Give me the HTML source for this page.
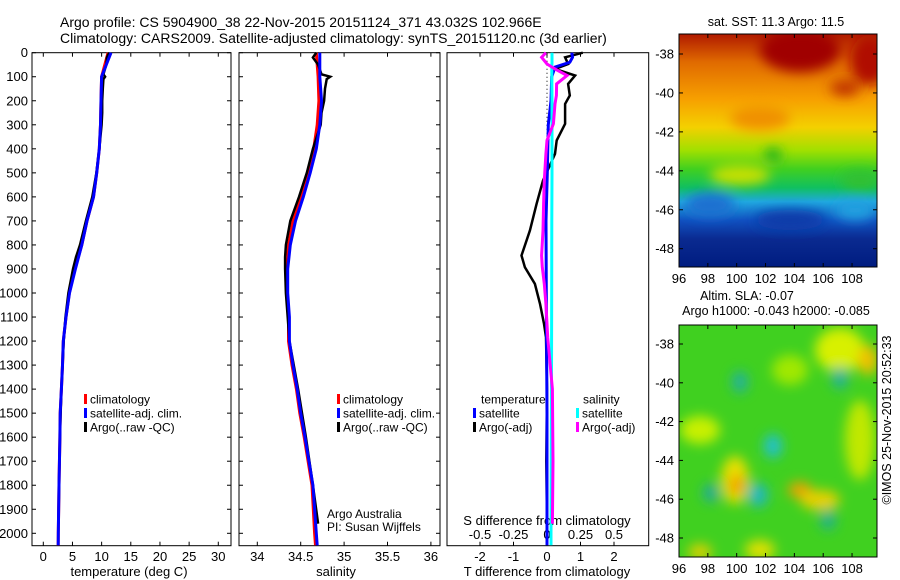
<!DOCTYPE html>
<html><head><meta charset="utf-8">
<style>
html,body{margin:0;padding:0;background:#fff;}
svg{display:block;font-family:"Liberation Sans",sans-serif;}
text{fill:#000;}
</style></head>
<body>
<svg id="chart" width="900" height="580" viewBox="0 0 900 580" xmlns="http://www.w3.org/2000/svg">
<defs>
  <linearGradient id="sstGrad" x1="0" y1="0" x2="0" y2="1">
    <stop offset="0" stop-color="#b01a00"/>
    <stop offset="0.12" stop-color="#e06a00"/>
    <stop offset="0.28" stop-color="#f7a000"/>
    <stop offset="0.40" stop-color="#f4d000"/>
    <stop offset="0.50" stop-color="#a0e000"/>
    <stop offset="0.58" stop-color="#40d020"/>
    <stop offset="0.66" stop-color="#10c060"/>
    <stop offset="0.72" stop-color="#20a8e0"/>
    <stop offset="0.80" stop-color="#1050c0"/>
    <stop offset="0.88" stop-color="#0a2a90"/>
    <stop offset="1" stop-color="#001c80"/>
  </linearGradient>
  <filter id="blur6"><feGaussianBlur stdDeviation="6"/></filter>
  <clipPath id="clipMap1"><rect x="679" y="34" width="198" height="233"/></clipPath>
  <clipPath id="clipMap2"><rect x="679" y="325" width="198" height="232"/></clipPath>
</defs>

<text x="60" y="27" font-size="14">Argo profile: CS 5904900_38 22-Nov-2015 20151124_371 43.032S 102.966E</text>
<text x="60" y="43" font-size="14">Climatology: CARS2009. Satellite-adjusted climatology: synTS_20151120.nc (3d earlier)</text>

<g id="p1"></g>
<g id="p2"></g>
<g id="p3"></g>

<g>
  <text x="776" y="26" font-size="12.5" text-anchor="middle">sat. SST: 11.3 Argo: 11.5</text>
  <g clip-path="url(#clipMap1)">
    <rect x="679" y="34" width="198" height="233" fill="url(#sstGrad)"/>
    <g filter="url(#blur6)">
      <ellipse cx="800" cy="50" rx="40" ry="22" fill="#a00000"/>
      <ellipse cx="870" cy="60" rx="20" ry="25" fill="#b01000"/>
      <ellipse cx="845" cy="88" rx="15" ry="8" fill="#c03000"/>
      <ellipse cx="760" cy="118" rx="30" ry="12" fill="#f09000"/>
      <ellipse cx="773" cy="155" rx="9" ry="7" fill="#20b020"/>
      <ellipse cx="740" cy="175" rx="30" ry="10" fill="#c8e000"/>
      <ellipse cx="710" cy="205" rx="25" ry="12" fill="#1a70d0"/>
      <ellipse cx="790" cy="220" rx="35" ry="10" fill="#0c3aa8"/>
      <ellipse cx="855" cy="210" rx="20" ry="10" fill="#20a0e0"/>
      <ellipse cx="860" cy="180" rx="20" ry="10" fill="#30c030"/>
    </g>
  </g>
  <rect x="679" y="34" width="198" height="233" fill="none" stroke="#000"/>
  <g id="map1axes"></g>
</g>

<g>
  <text x="747" y="300" font-size="12.5" text-anchor="middle">Altim. SLA: -0.07</text>
  <text x="776" y="315" font-size="12.5" text-anchor="middle">Argo h1000: -0.043 h2000: -0.085</text>
  <g clip-path="url(#clipMap2)">
    <rect x="679" y="325" width="198" height="232" fill="#40d020"/>
    <g filter="url(#blur6)">
      <ellipse cx="840" cy="350" rx="25" ry="22" fill="#d8f000"/>
      <ellipse cx="868" cy="360" rx="10" ry="15" fill="#f0c000"/>
      <ellipse cx="790" cy="370" rx="18" ry="15" fill="#a0e800"/>
      <ellipse cx="700" cy="430" rx="20" ry="14" fill="#c8f000"/>
      <ellipse cx="735" cy="480" rx="14" ry="24" fill="#e8e000"/>
      <ellipse cx="737" cy="485" rx="8" ry="10" fill="#f0a000"/>
      <ellipse cx="800" cy="490" rx="12" ry="8" fill="#f0a000"/>
      <ellipse cx="820" cy="500" rx="20" ry="10" fill="#e8d000"/>
      <ellipse cx="860" cy="440" rx="15" ry="40" fill="#c0e800"/>
      <ellipse cx="760" cy="550" rx="15" ry="10" fill="#e0e000"/>
      <ellipse cx="700" cy="552" rx="12" ry="8" fill="#e0d000"/>
      <ellipse cx="740" cy="382" rx="8" ry="11" fill="#20b0a0"/>
      <ellipse cx="840" cy="378" rx="8" ry="11" fill="#20b0a0"/>
      <ellipse cx="773" cy="446" rx="9" ry="12" fill="#20c0d0"/>
      <ellipse cx="758" cy="495" rx="10" ry="12" fill="#20b8c0"/>
      <ellipse cx="711" cy="493" rx="8" ry="9" fill="#20a8a0"/>
      <ellipse cx="828" cy="520" rx="8" ry="10" fill="#20b090"/>
    </g>
  </g>
  <rect x="679" y="325" width="198" height="232" fill="none" stroke="#000"/>
  <g id="map2axes"></g>
  <text transform="translate(891,420) rotate(-90)" font-size="12.5" text-anchor="middle">©IMOS 25-Nov-2015 20:52:33</text>
</g>
</svg>

<script>
var climDepth = [0,100,200,300,400,500,600,700,800,900,1000,1100,1200,1300,1400,1500,1600,1800,2000,2050];
var climTemp  = [11.1,10.0,9.9,9.8,9.6,9.15,8.6,7.5,6.6,5.4,4.45,3.9,3.43,3.3,3.1,2.9,2.85,2.7,2.57,2.55];
var satTemp   = [11.6,10.0,9.9,9.8,9.6,9.15,8.6,7.5,6.6,5.5,4.5,3.9,3.43,3.3,3.1,2.9,2.85,2.7,2.57,2.55];
var climSal   = [34.68,34.70,34.71,34.69,34.65,34.59,34.51,34.41,34.36,34.34,34.34,34.36,34.36,34.40,34.45,34.49,34.54,34.63,34.66,34.67];
var satSal    = [34.72,34.72,34.74,34.72,34.68,34.61,34.53,34.44,34.38,34.35,34.35,34.37,34.37,34.41,34.46,34.50,34.55,34.64,34.68,34.69];

var argoDepth = [0,20,50,90,100,110,150,200,250,300,400,500,600,700,800,850,900,1000,1100,1200,1400,1600,1800,1960];
var argoTemp  = [11.3,10.9,10.8,10.3,10.6,10.3,10.2,10.1,10.1,10.0,9.6,9.1,8.4,7.3,6.3,5.6,5.1,4.3,3.8,3.5,3.1,2.85,2.7,2.6];
var argoSal   = [34.68,34.64,34.70,34.74,34.84,34.80,34.78,34.77,34.74,34.73,34.64,34.57,34.48,34.38,34.33,34.32,34.32,34.33,34.35,34.37,34.47,34.56,34.64,34.70];

var diffDepth  = [0,19,47,68,95,130,178,213,296,365,421,532,629,740,844,893,962,1045,1128,1184,1400,1700,1960];
var argoTdiff  = [1.07,0.54,0.63,0.24,0.84,0.63,0.68,0.54,0.54,0.29,0.24,-0.12,-0.31,-0.51,-0.76,-0.66,-0.36,-0.21,-0.09,-0.03,0.0,-0.02,0.0];
var argoSdiff  = [-0.008,-0.04,0.0,0.06,0.15,0.072,0.07,0.06,0.048,0.0,-0.008,-0.02,-0.025,-0.03,-0.04,-0.035,-0.02,-0.008,0.0,0.005,0.04,0.045,0.04];
var satDiffDepth = [0,19,40,60,100,200,300,500,700,1000,1500,2000,2050];
var satTdiff   = [0.74,0.76,0.68,0.24,0.14,0.12,0.04,0.01,-0.03,-0.02,0.0,0.0,0.0];
var satSdiff   = [0.037,0.037,0.037,0.036,0.036,0.037,0.037,0.037,0.036,0.035,0.033,0.03,0.03];

var depthTicks = [0,100,200,300,400,500,600,700,800,900,1000,1100,1200,1300,1400,1500,1600,1700,1800,1900,2000];
var tempTicks = [0,5,10,15,20,25,30];
var salTicks = [34,34.5,35,35.5,36];
var salTickLabels = ["34","34.5","35","35.5","36"];
var tdTicks = [-2,-1,0,1,2];
var sdTicks = [-0.5,-0.25,0,0.25,0.5];
var sdTickLabels = ["-0.5","-0.25","0","0.25","0.5"];
var lonTicks = [96,98,100,102,104,106,108];
var latTicks = [-38,-40,-42,-44,-46,-48];

var TOP = 52.7, BOT = 545.7, FS = 13, LFS = 12;
function yD(d){ return TOP + d*0.2403; }
function xT(t){ return 43.3 + t*5.833; }
function xS(s){ return 257.3 + (s-34)*86.8; }
function xTd(t){ return 547 + t*33.5; }
function xSd(s){ return 547 + s*134; }
function lonX(l){ return 679 + (l-96)*14.42; }
function latY1(l){ return 54 + (-38-l)*19.47; }
function latY2(l){ return 344 + (-38-l)*19.4; }

var NS = "http://www.w3.org/2000/svg";
function mk(parent, tag, attrs, txt){
  var e = document.createElementNS(NS, tag);
  for (var k in attrs) e.setAttribute(k, attrs[k]);
  if (txt !== undefined) e.textContent = txt;
  parent.appendChild(e);
  return e;
}
function stepPts(depths, vals, fx){
  var p = [];
  for (var i = 0; i < depths.length; i++){ p.push(fx(vals[i]).toFixed(1)+","+yD(depths[i]).toFixed(1)); }
  return p.join(" ");
}
function drawLine(g, depths, vals, fx, color, w, name){
  var l = mk(g, "polyline", {points: stepPts(depths, vals, fx), fill:"none", stroke:color, "stroke-width":w});
  
  
}
function frame(g, x0, x1, yTicksLeft, yTicksRight){
  var r = mk(g, "rect", {x:x0, y:TOP, width:x1-x0, height:BOT-TOP, fill:"none", stroke:"#000", "stroke-width":1});
  
  
  depthTicks.forEach(function(d){
    var y = yD(d);
    if (yTicksLeft) mk(g,"line",{x1:x0,x2:x0+4,y1:y,y2:y,stroke:"#000"});
    if (yTicksRight) mk(g,"line",{x1:x1-4,x2:x1,y1:y,y2:y,stroke:"#000"});
  });
}
function xTicks(g, vals, labels, fx, yLab){
  vals.forEach(function(v,i){
    var x = fx(v);
    mk(g,"line",{x1:x,x2:x,y1:BOT,y2:BOT-4,stroke:"#000"});
    mk(g,"line",{x1:x,x2:x,y1:TOP,y2:TOP+4,stroke:"#000"});
    var t = mk(g,"text",{x:x,y:yLab,"font-size":FS,"text-anchor":"middle"}, labels[i]);
    
    
  });
}
function legendEntry(g, x, y, color, label){
  var m = mk(g,"rect",{x:x, y:y-5, width:3, height:10, fill:color});
  
  
  var t = mk(g,"text",{x:x+6, y:y+4.5, "font-size":LFS}, label);
  
  
}

var p1 = document.getElementById("p1");
frame(p1, 32, 231, true, true);
depthTicks.forEach(function(d){
  var t = mk(p1,"text",{x:28,y:yD(d)+4.5,"font-size":FS,"text-anchor":"end"}, String(d));
  
  
});
xTicks(p1, tempTicks, tempTicks.map(String), xT, 561);
var t1 = mk(p1,"text",{x:129,y:576,"font-size":FS,"text-anchor":"middle"},"temperature (deg C)");


drawLine(p1, climDepth, climTemp, xT, "#ff0000", 3, "climatology-temp-line");
drawLine(p1, argoDepth, argoTemp, xT, "#000000", 2.5, "argo-temp-line");
drawLine(p1, climDepth, satTemp, xT, "#0000ff", 3, "satellite-temp-line");
legendEntry(p1, 84, 399, "#ff0000", "climatology");
legendEntry(p1, 84, 413, "#0000ff", "satellite-adj. clim.");
legendEntry(p1, 84, 427, "#000000", "Argo(..raw -QC)");

var p2 = document.getElementById("p2");
frame(p2, 239, 440, true, true);
xTicks(p2, salTicks, salTickLabels, xS, 561);
var t2 = mk(p2,"text",{x:336,y:576,"font-size":FS,"text-anchor":"middle"},"salinity");


drawLine(p2, climDepth, climSal, xS, "#ff0000", 3, "climatology-salinity-line");
drawLine(p2, argoDepth, argoSal, xS, "#000000", 2.5, "argo-salinity-line");
drawLine(p2, climDepth, satSal, xS, "#0000ff", 3, "satellite-salinity-line");
legendEntry(p2, 337, 399, "#ff0000", "climatology");
legendEntry(p2, 337, 413, "#0000ff", "satellite-adj. clim.");
legendEntry(p2, 337, 427, "#000000", "Argo(..raw -QC)");
var a1 = mk(p2,"text",{x:327,y:518,"font-size":LFS},"Argo Australia");


var a2 = mk(p2,"text",{x:327,y:531,"font-size":LFS},"PI: Susan Wijffels");



var p3 = document.getElementById("p3");
frame(p3, 447, 648.7, false, false);
tdTicks.forEach(function(v){
  var x = xTd(v);
  mk(p3,"line",{x1:x,x2:x,y1:BOT,y2:BOT-4,stroke:"#000"});
  mk(p3,"line",{x1:x,x2:x,y1:TOP,y2:TOP+4,stroke:"#000"});
  var t = mk(p3,"text",{x:x,y:561,"font-size":FS,"text-anchor":"middle"}, String(v));
  
  
});
sdTicks.forEach(function(v,i){
  var t = mk(p3,"text",{x:xSd(v),y:539,"font-size":FS,"text-anchor":"middle"}, sdTickLabels[i]);
  
  
});
var t3 = mk(p3,"text",{x:547,y:525,"font-size":FS,"text-anchor":"middle"},"S difference from climatology");


var t4 = mk(p3,"text",{x:547,y:576,"font-size":FS,"text-anchor":"middle"},"T difference from climatology");


var zl = mk(p3,"line",{x1:xTd(0),x2:xTd(0),y1:TOP,y2:BOT,stroke:"#000","stroke-dasharray":"1,3"});


drawLine(p3, diffDepth, argoTdiff, xTd, "#000000", 2.5, "argo-t-diff-line");
drawLine(p3, satDiffDepth, satTdiff, xTd, "#0000ff", 3, "satellite-t-diff-line");
drawLine(p3, satDiffDepth, satSdiff, xSd, "#00ffff", 3, "satellite-s-diff-line");
drawLine(p3, diffDepth, argoSdiff, xSd, "#ff00ff", 3, "argo-s-diff-line");
var lt = mk(p3,"text",{x:481,y:403.5,"font-size":LFS},"temperature");


var ls = mk(p3,"text",{x:583,y:403.5,"font-size":LFS},"salinity");


legendEntry(p3, 473, 413, "#0000ff", "satellite");
legendEntry(p3, 473, 427, "#000000", "Argo(-adj)");
legendEntry(p3, 576, 413, "#00ffff", "satellite");
legendEntry(p3, 576, 427, "#ff00ff", "Argo(-adj)");

function mapAxes(gid, y0, y1, latY){
  var g = document.getElementById(gid);
  lonTicks.forEach(function(l){
    var x = lonX(l);
    mk(g,"line",{x1:x,x2:x,y1:y1,y2:y1-4,stroke:"#000"});
    mk(g,"line",{x1:x,x2:x,y1:y0,y2:y0+4,stroke:"#000"});
    var t = mk(g,"text",{x:x,y:y1+16,"font-size":FS,"text-anchor":"middle"}, String(l));
    
    
  });
  latTicks.forEach(function(l){
    var y = latY(l);
    mk(g,"line",{x1:679,x2:683,y1:y,y2:y,stroke:"#000"});
    mk(g,"line",{x1:873,x2:877,y1:y,y2:y,stroke:"#000"});
    var t = mk(g,"text",{x:674,y:y+4.5,"font-size":FS,"text-anchor":"end"}, String(l));
    
    
  });
}
mapAxes("map1axes", 34, 267, latY1);
mapAxes("map2axes", 325, 557, latY2);
</script>
</body></html>
